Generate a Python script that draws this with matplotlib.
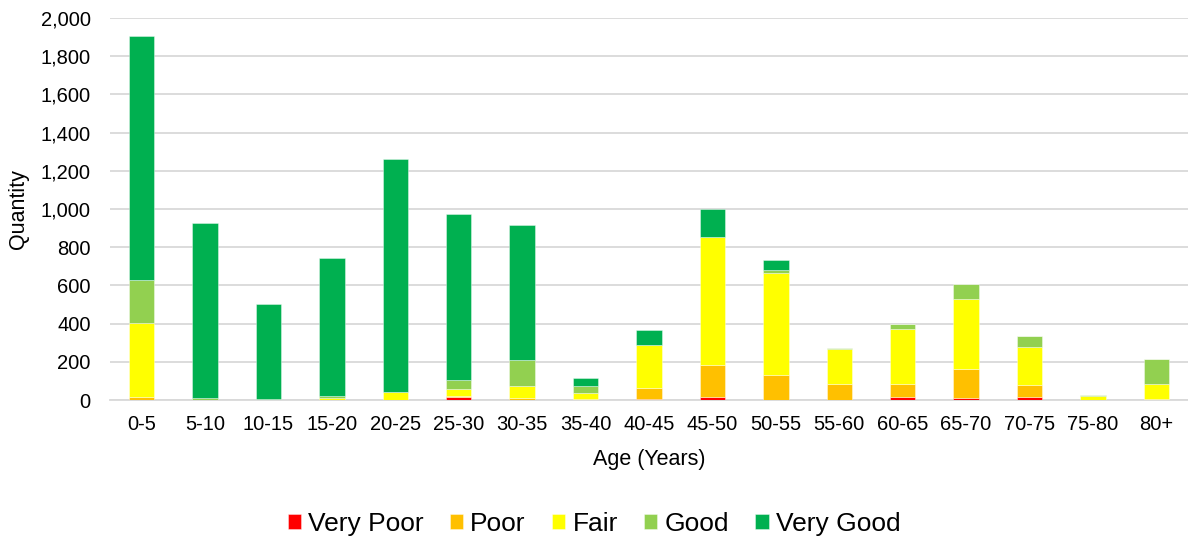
import matplotlib.pyplot as plt
import numpy as np
from matplotlib.ticker import FuncFormatter

plt.rcParams['font.family'] = ['Liberation Sans', 'DejaVu Sans']

# age bands and condition counts per band
ages = ["0-5", "5-10", "10-15", "15-20", "20-25", "25-30", "30-35", "35-40", "40-45",
        "45-50", "50-55", "55-60", "60-65", "65-70", "70-75", "75-80", "80+"]
very_poor = [0, 0, 0, 0, 0, 18, 0, 0, 3, 16, 0, 2, 14, 10, 16, 0, 0]
poor = [15, 0, 0, 0, 0, 3, 8, 3, 60, 169, 133, 84, 72, 154, 61, 0, 5]
fair = [388, 2, 0, 12, 40, 35, 64, 32, 227, 666, 534, 179, 286, 365, 200, 20, 77]
good = [224, 8, 5, 8, 0, 47, 136, 37, 0, 0, 12, 9, 26, 80, 56, 5, 135]
very_good = [1278, 915, 496, 722, 1220, 873, 710, 42, 78, 149, 52, 0, 0, 0, 0, 0, 0]

series = [("Very Poor", very_poor, "#FF0000"),
          ("Poor", poor, "#FFC000"),
          ("Fair", fair, "#FFFF00"),
          ("Good", good, "#92D050"),
          ("Very Good", very_good, "#00B050")]

fig = plt.figure(figsize=(11.88, 5.42), dpi=100)
ax = fig.add_axes([110 / 1188, 1 - 400 / 542, 1078 / 1188, 382 / 542])

x = np.arange(len(ages))
bottom = np.zeros(len(ages))
for name, vals, col in series:
    ax.bar(x, vals, width=0.4, bottom=bottom, color=col, label=name,
           edgecolor=(1, 1, 1, 0.45), linewidth=0.6, zorder=3)
    bottom += np.array(vals)

ax.set_xlim(-0.5, len(ages) - 0.5)
ax.set_ylim(0, 2000)
ax.set_yticks(np.arange(0, 2001, 200))
ax.yaxis.set_major_formatter(FuncFormatter(lambda v, p: f"{int(v):,}"))
ax.set_xticks(x)
ax.set_xticklabels(ages)
ax.grid(axis='y', color='#D9D9D9', linewidth=1.3, zorder=0)
for s in ['top', 'right', 'left']:
    ax.spines[s].set_visible(False)
ax.spines['bottom'].set_color('#D9D9D9')
ax.spines['bottom'].set_linewidth(1.3)
ax.tick_params(axis='both', length=0, labelsize=14.5, colors='black')
ax.tick_params(axis='y', pad=14)
ax.tick_params(axis='x', pad=11)

ax.set_xlabel("Age (Years)", fontsize=15.5)
ax.xaxis.set_label_coords(0.5, -(460 - 400) / 382, transform=ax.transAxes)
ax.xaxis.label.set_va('center')
ax.set_ylabel("Quantity", fontsize=15.5)
ax.yaxis.set_label_coords(-(110 - 18) / 1078, 0.5)
ax.yaxis.label.set_va('center')

fig.legend(loc='center', bbox_to_anchor=(0.5, 1 - 524 / 542), ncol=5, frameon=False,
           fontsize=19, handlelength=0.5, handleheight=0.5, handletextpad=0.27,
           columnspacing=1.0)

fig.savefig("out.png", dpi=100)
